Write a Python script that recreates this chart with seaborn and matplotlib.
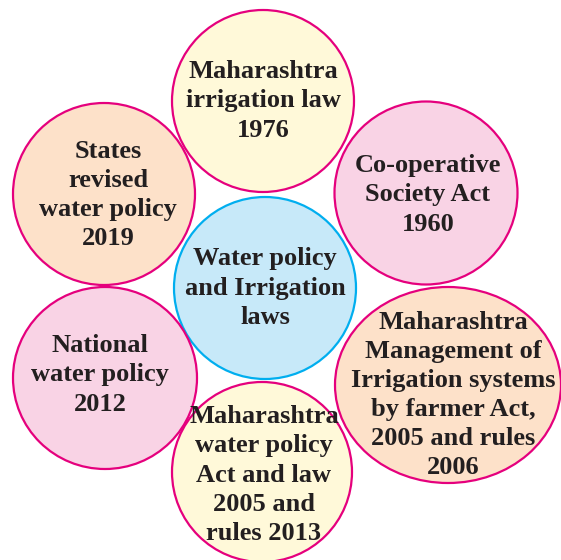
import matplotlib
matplotlib.use("Agg")
import matplotlib.pyplot as plt
import seaborn as sns
from matplotlib.patches import Ellipse

sns.set_style("white")
plt.rcParams['font.family'] = ['Liberation Serif', 'DejaVu Serif']

# node labels (centre first, then the ring clockwise from the top)
labels = [
    "Water policy\nand Irrigation\nlaws",
    "Maharashtra\nirrigation law\n1976",
    "Co-operative\nSociety Act\n1960",
    "Maharashtra\nManagement of\nIrrigation systems\nby farmer Act,\n2005 and rules\n2006",
    "Maharashtra\nwater policy\nAct and law\n2005 and\nrules 2013",
    "National\nwater policy\n2012",
    "States\nrevised\nwater policy\n2019",
]

# layout in pixel units (y down)
centers = [(265, 288), (263, 101), (426, 193), (448, 385), (262, 472), (105, 378), (104, 194)]
radii = [(91, 91), (91, 91), (91.5, 91.5), (113, 98), (90, 90), (92, 91), (91, 91)]
text_pos = [(265, 288), (263, 101), (428, 195), (453, 395), (264, 475), (100, 375), (108, 195)]

peach, yellow, pink, blue = "#fde1c9", "#fff9d9", "#f9d3e5", "#c7e9f9"
fills = [blue, yellow, pink, peach, yellow, pink, peach]
edges = ["#00aeef"] + ["#e5007d"] * 6

fig = plt.figure(figsize=(5.61, 5.60), dpi=100)
ax = fig.add_axes([0, 0, 1, 1])
ax.set_xlim(0, 561)
ax.set_ylim(560, 0)
ax.set_aspect("equal")
ax.axis("off")

order = [1, 2, 6, 0, 5, 3, 4]
for i in order:
    (cx, cy), (rx, ry) = centers[i], radii[i]
    ax.add_patch(Ellipse((cx, cy), 2 * rx, 2 * ry, facecolor=fills[i],
                         edgecolor=edges[i], lw=1.6, zorder=1))

for lab, (tx, ty) in zip(labels, text_pos):
    ax.text(tx, ty, lab, ha="center", va="center", fontsize=19,
            fontweight="bold", color="#231f20", linespacing=1.34, zorder=3)

fig.savefig("out.png", dpi=100)
